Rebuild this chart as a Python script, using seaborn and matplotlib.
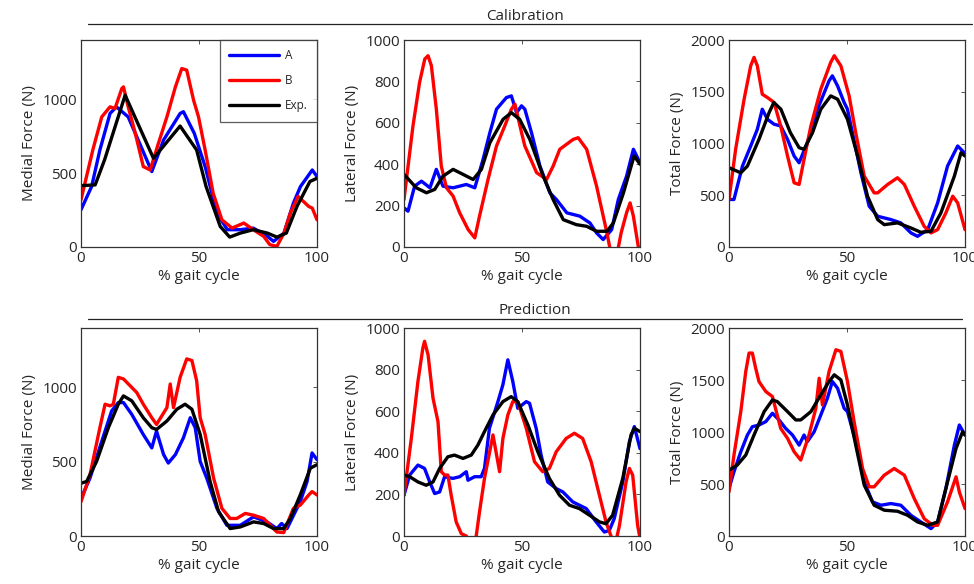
import numpy as np
import pandas as pd
import seaborn as sns
import matplotlib
matplotlib.use("Agg")
import matplotlib.pyplot as plt
from matplotlib.lines import Line2D

# ---------------- data ----------------
# Calibration - Medial
cal_med_exp_x = [0, 6, 10, 18.7, 30.7, 42, 49, 53, 59, 63, 67.5, 73, 79, 83, 87, 91.5, 97, 100]
cal_med_exp_y = [415, 420, 590, 1027, 600, 818, 656, 409, 139, 67, 94, 117, 94, 67, 94, 274, 443, 465]
cal_med_a_x = [0, 4.5, 8, 12.3, 15, 20, 30, 35, 42, 43.4, 48, 52.6, 57.6, 62, 67.5, 73, 79, 81.6, 86, 90, 93, 98, 100]
cal_med_a_y = [252, 409, 656, 903, 948, 880, 510, 724, 903, 915, 769, 544, 229, 117, 117, 128, 72, 38, 94, 297, 409, 521, 476]
cal_med_b_x = [0, 5, 8.8, 12.3, 14.4, 17.3, 18, 20, 23, 26.4, 29.3, 32.8, 36.4, 40, 42.7, 44.8, 47.7, 49.8, 52.6, 56, 59.7, 64, 69, 73, 77.4, 80, 83, 86, 88.7, 92, 96.5, 98, 100]
cal_med_b_y = [319, 656, 880, 948, 937, 1072, 1083, 948, 769, 544, 521, 701, 880, 1083, 1207, 1196, 993, 880, 656, 364, 184, 128, 162, 117, 72, 16, 4, 94, 229, 342, 274, 263, 184]

# Calibration - Lateral
cal_lat_exp_x = [0, 5.2, 9.5, 13, 16.5, 20.8, 25, 29.3, 32.8, 36.4, 42, 45.5, 49, 53.3, 59, 63.2, 67.5, 73, 77.4, 81.6, 86, 88.7, 93, 97.5, 100]
cal_lat_exp_y = [351, 286, 262, 278, 342, 375, 351, 326, 375, 504, 617, 649, 617, 520, 342, 229, 132, 108, 100, 76, 76, 116, 262, 440, 400]
cal_lat_a_x = [0, 1.7, 4.5, 7.4, 11, 13.7, 16.5, 20.8, 23.6, 26.4, 30, 33.5, 36.4, 39.2, 43.4, 45.5, 47.7, 49.8, 51.2, 54, 57.6, 61.8, 64.6, 69, 74.5, 78.8, 81.6, 84.4, 88, 90.8, 94.3, 97.2, 100]
cal_lat_a_y = [189, 173, 294, 318, 286, 375, 294, 286, 294, 302, 286, 423, 553, 666, 722, 730, 649, 682, 666, 553, 391, 262, 229, 165, 149, 116, 68, 36, 84, 229, 342, 472, 407]
cal_lat_b_x = [0, 3.8, 6.6, 8.8, 10.2, 11.6, 13.7, 15.8, 18, 20.8, 23.6, 27.2, 30, 32, 35.6, 39.2, 42.7, 45.5, 47, 49.8, 51.2, 56.2, 60.4, 63.2, 66, 71.7, 73.8, 77.4, 81.6, 86, 88, 90, 92, 94.3, 95.8, 97.2, 99.3, 100]
cal_lat_b_y = [229, 585, 795, 908, 924, 876, 666, 391, 286, 246, 165, 84, 44, 149, 326, 488, 585, 666, 690, 553, 488, 359, 326, 391, 472, 520, 528, 472, 294, 68, -50, -50, 68, 165, 213, 149, 0, -20]

# Calibration - Total
cal_tot_exp_x = [0, 5, 7.8, 12.7, 17, 19, 22, 26, 29.7, 31.8, 35.4, 38.9, 43.1, 46, 50.2, 54.5, 58.7, 63, 65.8, 71.4, 77.1, 81.3, 85.6, 89.8, 95.5, 98.3, 100]
cal_tot_exp_y = [766, 717, 782, 1040, 1299, 1396, 1331, 1105, 960, 943, 1105, 1331, 1460, 1428, 1234, 879, 491, 265, 216, 233, 184, 142, 152, 330, 685, 911, 879]
cal_tot_a_x = [0, 2.1, 5.7, 9.2, 12, 14.1, 16.3, 19.1, 21.9, 24.8, 27.6, 29.7, 33.2, 37.5, 42.4, 43.8, 46, 48.8, 50.2, 52.3, 55.9, 59.4, 63, 68.6, 72.8, 77.1, 79.9, 84.2, 88.4, 92.6, 96.9, 99.7]
cal_tot_a_y = [459, 459, 782, 976, 1137, 1331, 1234, 1186, 1170, 1040, 879, 814, 1008, 1331, 1606, 1654, 1557, 1396, 1331, 1105, 717, 394, 297, 265, 233, 136, 103, 168, 426, 782, 976, 911]
cal_tot_b_x = [0, 2.8, 6.4, 9.2, 10.6, 12, 14.1, 16.3, 19.1, 21.9, 24.8, 27.6, 29.7, 31.8, 34.7, 38.9, 43.1, 44.6, 47.4, 50.9, 53.7, 57.3, 61.5, 63, 67.2, 71.4, 74.3, 78.5, 82.7, 85.6, 88.4, 91.9, 94.8, 96.9, 100]
cal_tot_b_y = [459, 943, 1428, 1751, 1832, 1751, 1476, 1444, 1396, 1170, 879, 620, 604, 847, 1170, 1525, 1784, 1848, 1751, 1460, 1105, 685, 523, 523, 604, 669, 604, 394, 200, 136, 168, 330, 491, 426, 168]

# Prediction - Medial
pre_med_exp_x = [0, 2.4, 6.6, 11.6, 15.8, 18, 21.5, 26.4, 30, 32, 36.4, 40.6, 44.1, 47, 50.5, 54.7, 58.3, 63.2, 67.5, 73.1, 77.4, 81.6, 85.9, 88.7, 92.9, 97.2, 100]
pre_med_exp_y = [355, 367, 502, 729, 887, 943, 910, 796, 729, 717, 774, 853, 887, 853, 683, 367, 163, 50, 61, 95, 84, 50, 50, 118, 276, 457, 480]
pre_med_a_x = [0, 3.8, 8.8, 13, 15.8, 18, 21.5, 26.4, 30, 32, 35, 37, 40, 43.4, 46.3, 48.4, 50.5, 53.3, 57.6, 61.8, 67.5, 73.1, 78.8, 83, 85, 87.3, 92.9, 95.8, 97.9, 100]
pre_med_a_y = [253, 389, 638, 842, 898, 898, 819, 683, 593, 706, 548, 491, 548, 661, 796, 729, 502, 389, 186, 72, 72, 129, 95, 50, 84, 50, 231, 367, 559, 514]
pre_med_b_x = [0, 3.8, 8, 10.2, 12.3, 13.7, 15.8, 18, 21.5, 23.6, 26.4, 30, 32, 36.4, 37.8, 39.2, 42, 44.8, 47, 49, 50.5, 52.6, 56.2, 59.7, 63.2, 66, 69.6, 73.1, 77.4, 80.2, 83, 85.9, 90, 92.9, 96.5, 97.9, 100]
pre_med_b_y = [231, 412, 729, 887, 876, 887, 1068, 1057, 1000, 966, 887, 796, 751, 864, 1023, 864, 1068, 1192, 1181, 1045, 796, 683, 389, 186, 118, 118, 152, 140, 118, 72, 27, 23, 186, 208, 276, 299, 276]

# Prediction - Lateral
pre_lat_exp_x = [0, 2.4, 5.9, 9.4, 12.3, 15.1, 18.6, 21.4, 25, 28.5, 31.3, 34.1, 37.7, 41.9, 45.4, 48.2, 52.5, 56.7, 61.6, 65.9, 70.1, 74.3, 78.6, 82.8, 85.6, 88.4, 92.7, 96.2, 97.6, 100]
pre_lat_exp_y = [293, 285, 260, 244, 260, 325, 381, 389, 373, 389, 437, 502, 582, 646, 670, 646, 534, 405, 277, 196, 148, 132, 100, 68, 59, 100, 277, 486, 518, 502]
pre_lat_a_x = [0, 2.4, 5.9, 8.7, 10.9, 13, 15.1, 17.2, 20.7, 23.6, 26.4, 27.1, 29.9, 32.7, 34.1, 36.2, 39.8, 41.9, 44, 46.1, 48.2, 51.8, 53.2, 56, 58.1, 60.9, 64.5, 67.3, 71.5, 77.2, 81.4, 84.9, 87, 89.1, 92.7, 95.5, 97.6, 100]
pre_lat_a_y = [196, 293, 341, 325, 260, 204, 212, 285, 277, 285, 309, 268, 285, 285, 325, 518, 646, 727, 847, 743, 614, 646, 638, 518, 389, 260, 228, 212, 164, 132, 68, 19, 27, 84, 260, 453, 526, 420]
pre_lat_b_x = [0, 3.1, 5.9, 8, 8.7, 10.2, 12.3, 14.4, 15.8, 17.2, 18.6, 20, 22.1, 24.3, 26.4, 28.5, 30.6, 32, 34.1, 37.7, 40.5, 41.9, 44, 46.1, 48.2, 51.8, 55.3, 58.8, 61.6, 64.5, 68.7, 72.2, 75.7, 79.3, 82.8, 85.6, 87.7, 89.5, 91.3, 94.1, 95.5, 96.9, 99, 100]
pre_lat_b_y = [196, 469, 743, 904, 936, 871, 662, 550, 309, 293, 293, 196, 68, 11, 0, -40, 0, 116, 277, 486, 309, 469, 582, 646, 646, 518, 357, 309, 325, 405, 469, 494, 469, 357, 196, 68, 0, -40, 51, 260, 325, 293, 51, -10]

# Prediction - Total
pre_tot_exp_x = [0, 3.5, 7.1, 10.6, 14.9, 18.4, 20.5, 24.8, 28.3, 30.4, 34.7, 38.9, 42.4, 44.6, 47.4, 50.2, 53.7, 57.3, 61.5, 65.8, 71.4, 75.7, 79.9, 84.2, 88.4, 91.9, 96.2, 99, 100]
pre_tot_exp_y = [633, 682, 778, 971, 1196, 1308, 1292, 1196, 1116, 1116, 1196, 1357, 1485, 1550, 1501, 1260, 874, 489, 296, 248, 238, 199, 135, 103, 135, 457, 842, 1003, 971]
pre_tot_a_x = [0, 2.1, 5, 7.8, 9.9, 12.7, 15.6, 18.4, 21.2, 24, 26.9, 29.7, 31.8, 33.2, 36.1, 38.9, 41.7, 43.8, 46, 48.8, 50.2, 53.7, 57.3, 60.8, 64.4, 68.6, 72.8, 77.1, 81.3, 85.6, 88.4, 91.9, 95.5, 97.6, 100]
pre_tot_a_y = [457, 617, 810, 971, 1051, 1067, 1100, 1180, 1116, 1035, 971, 874, 971, 907, 1003, 1164, 1325, 1485, 1421, 1228, 1196, 907, 521, 328, 296, 312, 296, 199, 135, 71, 135, 457, 874, 1067, 971]
pre_tot_b_x = [0, 2.1, 5, 7.1, 8.5, 9.9, 11.3, 12.7, 15.6, 18.4, 21.9, 24.8, 27.6, 30.4, 33.9, 36.8, 38.2, 39.6, 42.4, 45.3, 47.4, 50.2, 53, 56.6, 59.4, 61.5, 65.8, 70, 74.3, 78.5, 82.7, 86.3, 88.4, 92.6, 96.2, 97.6, 100]
pre_tot_b_y = [424, 778, 1196, 1582, 1759, 1759, 1614, 1485, 1389, 1341, 1035, 939, 810, 730, 971, 1228, 1517, 1260, 1582, 1791, 1775, 1485, 1100, 649, 473, 473, 585, 649, 585, 360, 167, 103, 103, 328, 569, 424, 264]

series_names = ["A", "B", "Exp."]
series_colors = {"A": "#0000ff", "B": "#ff0000", "Exp.": "#000000"}
row_titles = ["Calibration", "Prediction"]
y_labels = ["Medial Force (N)", "Lateral Force (N)", "Total Force (N)"]
x_label = "% gait cycle"
x_ticks = [0, 50, 100]
y_ticks = [[0, 500, 1000], [0, 200, 400, 600, 800, 1000], [0, 500, 1000, 1500, 2000]]
y_limits = [(0, 1400), (0, 1000), (0, 2000)]

panels = [
    [  # Calibration
        {"A": (cal_med_a_x, cal_med_a_y), "B": (cal_med_b_x, cal_med_b_y), "Exp.": (cal_med_exp_x, cal_med_exp_y)},
        {"A": (cal_lat_a_x, cal_lat_a_y), "B": (cal_lat_b_x, cal_lat_b_y), "Exp.": (cal_lat_exp_x, cal_lat_exp_y)},
        {"A": (cal_tot_a_x, cal_tot_a_y), "B": (cal_tot_b_x, cal_tot_b_y), "Exp.": (cal_tot_exp_x, cal_tot_exp_y)},
    ],
    [  # Prediction
        {"A": (pre_med_a_x, pre_med_a_y), "B": (pre_med_b_x, pre_med_b_y), "Exp.": (pre_med_exp_x, pre_med_exp_y)},
        {"A": (pre_lat_a_x, pre_lat_a_y), "B": (pre_lat_b_x, pre_lat_b_y), "Exp.": (pre_lat_exp_x, pre_lat_exp_y)},
        {"A": (pre_tot_a_x, pre_tot_a_y), "B": (pre_tot_b_x, pre_tot_b_y), "Exp.": (pre_tot_exp_x, pre_tot_exp_y)},
    ],
]

# ---------------- style ----------------
sns.set_style("white")
plt.rcParams["font.family"] = ["Open Sans", "DejaVu Sans"]
plt.rcParams["axes.edgecolor"] = "#333333"
plt.rcParams["axes.linewidth"] = 0.9

W, H = 974, 584
fig = plt.figure(figsize=(W / 100, H / 100), dpi=100)

col_left = [81, 404, 729]
col_w = 236
row_top = [40, 328]
row_bot = [247, 536]

for r in range(2):
    for c in range(3):
        ax = fig.add_axes([col_left[c] / W, 1 - row_bot[r] / H, col_w / W, (row_bot[r] - row_top[r]) / H])
        data = panels[r][c]
        for name in series_names:
            xs, ys = data[name]
            df = pd.DataFrame({"x": xs, "y": ys})
            sns.lineplot(data=df, x="x", y="y", ax=ax, color=series_colors[name],
                         linewidth=2.4, estimator=None, sort=False, label=name)
        ax.set_xlim(0, 100)
        ax.set_ylim(*y_limits[c])
        ax.set_xticks(x_ticks)
        ax.set_yticks(y_ticks[c])
        ax.set_xlabel(x_label, fontsize=11, labelpad=2)
        ax.set_ylabel(y_labels[c], fontsize=11, labelpad=4)
        ax.tick_params(axis="both", which="both", direction="in", top=True, right=True,
                       length=3, width=0.7, labelsize=11, pad=3, color="#555555")
        for s in ax.spines.values():
            s.set_visible(True)
        if r == 0 and c == 0:
            leg = ax.legend(loc="upper right", fontsize=8.5, frameon=True, fancybox=False,
                            edgecolor="#333333", handlelength=4.2, borderpad=0.8,
                            labelspacing=1.0, borderaxespad=0.0, handletextpad=0.5)
            leg.get_frame().set_linewidth(0.9)
        else:
            lg = ax.get_legend()
            if lg is not None:
                lg.remove()

# row headers with rule lines
fig.add_artist(Line2D([88 / W, 972 / W], [1 - 24 / H, 1 - 24 / H], color="#222222", linewidth=0.9))
fig.text(525 / W, 1 - 16 / H, row_titles[0], ha="center", va="center", fontsize=11)
fig.add_artist(Line2D([88 / W, 962 / W], [1 - 319 / H, 1 - 319 / H], color="#222222", linewidth=0.9))
fig.text(535 / W, 1 - 311 / H, row_titles[1], ha="center", va="center", fontsize=11)

fig.savefig("out.png", dpi=100, facecolor="white")
